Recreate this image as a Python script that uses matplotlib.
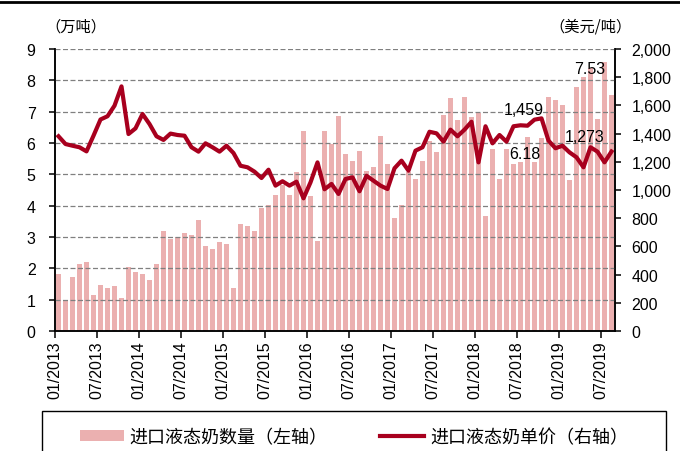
import matplotlib

matplotlib.use("Agg")
import matplotlib.pyplot as plt
import numpy as np
from matplotlib.lines import Line2D
from matplotlib.patches import Rectangle

plt.rcParams["font.family"] = ["Liberation Sans", "Noto Sans CJK SC", "DejaVu Sans"]
plt.rcParams["axes.unicode_minus"] = False

# monthly data, 01/2013 - 08/2019
volume = [1.82, 0.97, 1.73, 2.14, 2.19, 1.16, 1.47, 1.37, 1.43, 1.05,
          2.04, 1.88, 1.83, 1.63, 2.14, 3.19, 2.94, 3.00, 3.13, 3.07,
          3.55, 2.72, 2.62, 2.83, 2.77, 1.36, 3.40, 3.34, 3.19, 3.93,
          4.02, 4.34, 4.66, 4.34, 5.06, 6.38, 4.30, 2.88, 6.38, 5.97,
          6.85, 5.65, 5.44, 5.75, 5.12, 5.23, 6.22, 5.33, 3.61, 4.03,
          5.06, 4.85, 5.44, 6.07, 5.70, 6.89, 7.43, 6.75, 7.47, 6.84,
          6.95, 3.66, 5.81, 4.85, 5.81, 5.33, 5.38, 6.18, 5.38, 6.17,
          7.48, 7.37, 7.21, 4.82, 7.80, 8.12, 8.38, 6.77, 8.60, 7.53]
price = [1381, 1326, 1314, 1303, 1274, 1385, 1500, 1523, 1598, 1735,
         1397, 1437, 1539, 1468, 1381, 1355, 1400, 1390, 1385, 1303,
         1272, 1331, 1303, 1272, 1314, 1262, 1172, 1161, 1130, 1085,
         1144, 1031, 1062, 1031, 1059, 941, 1054, 1196, 1005, 1043,
         972, 1078, 1090, 991, 1101, 1066, 1031, 1007, 1154, 1208,
         1137, 1279, 1303, 1413, 1402, 1343, 1428, 1381, 1428, 1484,
         1196, 1452, 1331, 1390, 1343, 1452, 1459, 1456, 1499, 1508,
         1350, 1296, 1314, 1267, 1232, 1161, 1303, 1272, 1196, 1273]
tick_labels = ["01/2013", "07/2013", "01/2014", "07/2014", "01/2015", "07/2015",
               "01/2016", "07/2016", "01/2017", "07/2017", "01/2018", "07/2018",
               "01/2019", "07/2019"]
label_vol = "进口液态奶数量（左轴）"
label_price = "进口液态奶单价（右轴）"

BAR_C = "#EBB0B0"
LINE_C = "#A8001E"

fig = plt.figure(figsize=(6.8, 4.52), dpi=100)
ax = fig.add_axes([55 / 680, 1 - 332 / 452, 560 / 680, 282 / 452])
ax2 = ax.twinx()

n = len(volume)
x = np.arange(n) + 0.5
bars = ax.bar(x, volume, width=0.75, color=BAR_C, zorder=1)
(line,) = ax2.plot(x, price, color=LINE_C, lw=3.0, solid_joinstyle="round")

ax.set_xlim(0, n)
ax.set_ylim(0, 9)
ax.set_yticks(range(0, 10))
ax2.set_ylim(0, 2000)
ax2.set_yticks(range(0, 2001, 200))
ax2.set_yticklabels([f"{v:,}" for v in range(0, 2001, 200)])
ax.set_xticks(np.arange(0, 6 * len(tick_labels), 6))
ax.set_xticklabels(tick_labels, rotation=90)

ax.grid(True, axis="y", color="#808080", ls=(0, (4, 2)), lw=0.9)
ax.set_axisbelow(False)

for a in (ax, ax2):
    a.spines["top"].set_visible(False)
    for s in a.spines.values():
        s.set_linewidth(1.1)
ax.tick_params(axis="y", labelsize=11.5, length=4, pad=10, width=1.1)
ax.tick_params(axis="x", labelsize=11.5, length=5, pad=2, width=1.1)
ax2.tick_params(axis="y", labelsize=11.5, length=4, pad=8, width=1.1)

# data labels
ann = dict(textcoords="offset pixels", ha="center", va="center", fontsize=11.5)
ax.annotate(f"{volume[-1]:.2f}", (x[-1], volume[-1]), xytext=(-22, 27), **ann)
ax.annotate(f"{volume[67]:.2f}", (x[67], volume[67]), xytext=(-3, -16), **ann)
ax2.annotate(f"{price[66]:,}", (x[66], price[66]), xytext=(3, 16), **ann)
ax2.annotate(f"{price[-1]:,}", (x[-1], price[-1]), xytext=(-27, 15), **ann)

# unit labels
fig.text(76 / 680, 1 - 27 / 452, "（万吨）", ha="center", va="center",
         fontsize=11, family=["Noto Sans CJK SC"])
fig.text(590 / 680, 1 - 27 / 452, "（美元/吨）", ha="center", va="center",
         fontsize=11, family=["Noto Sans CJK SC"])

# top rule and legend box
fig.add_artist(Line2D([0, 1], [1 - 3 / 452] * 2, transform=fig.transFigure,
                      color="black", lw=2))
fig.add_artist(Rectangle((42 / 680, -0.1), 624 / 680, (452 - 412) / 452 + 0.1,
                         transform=fig.transFigure, fill=False,
                         edgecolor="black", lw=1, clip_on=False))
fig.legend([bars, line], [label_vol, label_price], ncol=2, loc="center",
           bbox_to_anchor=(354 / 680, 1 - 438 / 452), frameon=False,
           handlelength=2.4, handleheight=0.5,
           columnspacing=2.9, handletextpad=0.35,
           prop={"family": ["Noto Sans CJK SC"], "size": 13})

fig.savefig("out.png", dpi=100)
